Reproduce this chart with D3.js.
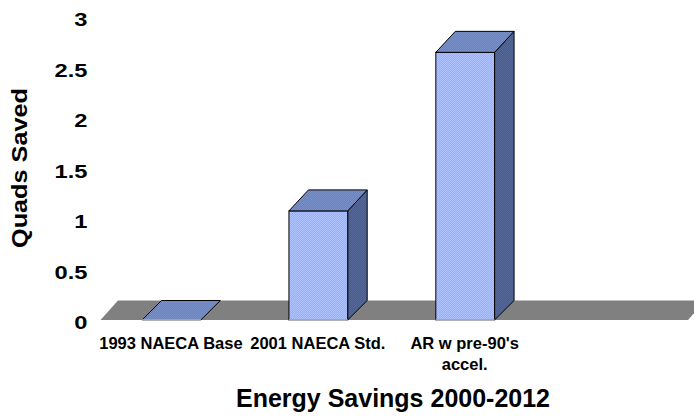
<!DOCTYPE html>
<html>
<head>
<meta charset="utf-8">
<script src="https://cdn.jsdelivr.net/npm/d3@7"></script>
<style>
  html, body { margin: 0; padding: 0; background: #fff; }
  svg { display: block; font-family: "Liberation Sans", Arial, sans-serif; font-weight: bold; }
</style>
</head>
<body>
<svg id="chart" width="694" height="418"></svg>
<script>
// ---- data ----
const categories = ["1993 NAECA Base", "2001 NAECA Std.", "AR w pre-90's\naccel.", ""];
const values = [0, 1.08, 2.65];
const yTicks = [0, 0.5, 1, 1.5, 2, 2.5, 3];
const yTitle = "Quads Saved";
const xTitle = "Energy Savings 2000-2012";

// ---- layout ----
const W = 694, H = 418;
const svg = d3.select("#chart");
const x = d3.scaleBand().domain(categories).range([100.5, 688]);
const y = d3.scaleLinear().domain([0, 3]).range([320, 17]);
const depthX = 19.5, depthY = -21;
const floorDX = 17.5, floorDY = -19.5;
const barFrac = 0.4;

// texture patterns
const defs = svg.append("defs");
function makePattern(id, base, dot) {
  const p = defs.append("pattern").attr("id", id).attr("width", 2).attr("height", 2)
    .attr("patternUnits", "userSpaceOnUse");
  p.append("rect").attr("width", 2).attr("height", 2).attr("fill", base);
  p.append("rect").attr("width", 1).attr("height", 1).attr("fill", dot);
  p.append("rect").attr("x", 1).attr("y", 1).attr("width", 1).attr("height", 1).attr("fill", dot);
}
makePattern("dots", "#97b0f2", "#aec3ff");
makePattern("dotsTop", "#6a82bd", "#7a90c8");
makePattern("dotsSide", "#4a5b8c", "#566898");

// floor
const [x0, x1] = x.range();
const y0 = y(0);
svg.append("polygon")
  .attr("points", [[x0, y0], [x0 + floorDX, y0 + floorDY], [x1 + floorDX, y0 + floorDY], [x1, y0]].map(p => p.join(",")).join(" "))
  .attr("fill", "#808080");

// bars
const bw = x.bandwidth() * barFrac;
const bars = svg.append("g").selectAll("g").data(values).join("g");
bars.each(function(v, i) {
  const g = d3.select(this);
  const bx = x(categories[i]) + (x.bandwidth() - bw) / 2 - 2.5;
  const yt = y(v);
  if (v > 0) {
    g.append("polygon")
      .attr("points", [[bx + bw, yt], [bx + bw + depthX, yt + depthY], [bx + bw + depthX, y0 + floorDY], [bx + bw, y0]].map(p => p.join(",")).join(" "))
      .attr("fill", "url(#dotsSide)").attr("stroke", "#000").attr("stroke-width", 1).attr("stroke-linejoin", "round");
    g.append("rect").attr("x", bx).attr("y", yt).attr("width", bw).attr("height", y0 - yt)
      .attr("fill", "url(#dots)").attr("stroke", "#000").attr("stroke-width", 1);
    g.append("line").attr("x1", bx).attr("x2", bx + bw).attr("y1", y0).attr("y2", y0)
      .attr("stroke", "#c0c0c0").attr("stroke-width", 1.5);
  }
  const dY = v > 0 ? depthY : floorDY;
  g.append("polygon")
    .attr("points", [[bx, yt], [bx + depthX, yt + dY], [bx + bw + depthX, yt + dY], [bx + bw, yt]].map(p => p.join(",")).join(" "))
    .attr("fill", "url(#dotsTop)").attr("stroke", "#000").attr("stroke-width", 1).attr("stroke-linejoin", "round");
  if (v === 0) {
    g.append("line").attr("x1", bx).attr("x2", bx + bw).attr("y1", y0).attr("y2", y0)
      .attr("stroke", "#c0c0c0").attr("stroke-width", 1.5);
  }
});

// y tick labels
svg.append("g").selectAll("text").data(yTicks).join("text")
  .attr("transform", d => `translate(87.5,${y(d) + 9.2}) scale(1.28,1)`)
  .attr("text-anchor", "end")
  .attr("font-size", 18.5)
  .attr("fill", "#000")
  .text(d => d3.format("")(d));

// category labels
const catG = svg.append("g");
categories.forEach((c, i) => {
  if (!c) return;
  const cx = x(c) + x.bandwidth() / 2 - 3;
  const t = catG.append("text").attr("text-anchor", "middle").attr("font-size", 16.5).attr("fill", "#000");
  c.split("\n").forEach((line, j) => {
    t.append("tspan").attr("x", cx).attr("y", 349 + j * 21).text(line);
  });
});

// y axis title
svg.append("text")
  .attr("transform", "translate(27,168) rotate(-90)")
  .attr("text-anchor", "middle")
  .attr("font-size", 22)
  .attr("textLength", 160).attr("lengthAdjust", "spacingAndGlyphs")
  .attr("fill", "#000")
  .text(yTitle);

// x axis title
svg.append("text")
  .attr("x", 393).attr("y", 407)
  .attr("text-anchor", "middle")
  .attr("font-size", 25)
  .attr("fill", "#000")
  .text(xTitle);
</script>
</body>
</html>
